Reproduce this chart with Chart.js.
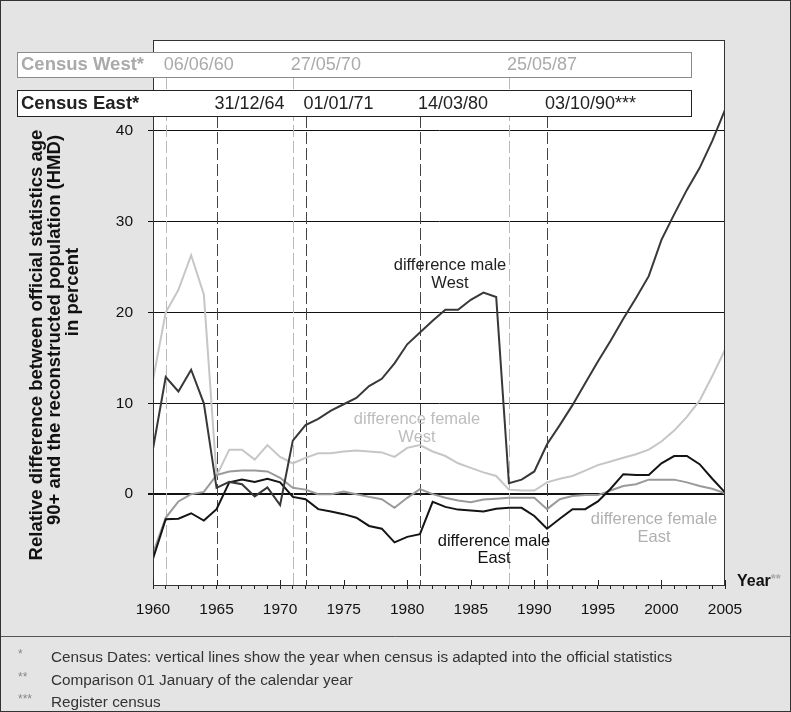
<!DOCTYPE html>
<html><head><meta charset="utf-8">
<script src="https://cdn.jsdelivr.net/npm/chart.js@4/dist/chart.umd.min.js"></script>
<style>html,body{margin:0;padding:0;background:#e4e4e4;}#wrap{width:791px;height:712px;}</style>
</head><body><div id="wrap"><canvas id="c" width="791" height="712"></canvas></div>
<script>
const years = [1960,1961,1962,1963,1964,1965,1966,1967,1968,1969,1970,1971,1972,1973,1974,1975,1976,1977,1978,1979,1980,1981,1982,1983,1984,1985,1986,1987,1988,1989,1990,1991,1992,1993,1994,1995,1996,1997,1998,1999,2000,2001,2002,2003,2004,2005];
const maleWest = [5.0,12.9,11.3,13.7,10.0,0.7,1.35,1.1,-0.25,0.75,-1.2,5.9,7.6,8.3,9.2,9.9,10.6,11.9,12.7,14.4,16.5,17.8,19.1,20.3,20.3,21.4,22.2,21.7,1.2,1.6,2.5,5.5,7.6,9.8,12.2,14.6,16.9,19.3,21.6,24.0,28.0,30.8,33.5,35.9,38.9,42.3];
const maleEast = [-7.1,-2.75,-2.7,-2.1,-2.9,-1.65,1.3,1.6,1.35,1.7,1.3,-0.3,-0.55,-1.65,-1.9,-2.2,-2.6,-3.5,-3.8,-5.3,-4.7,-4.4,-0.85,-1.4,-1.7,-1.8,-1.9,-1.6,-1.5,-1.5,-2.4,-3.8,-2.7,-1.65,-1.65,-0.8,0.6,2.2,2.1,2.1,3.4,4.2,4.2,3.3,1.7,0.2];
const femaleWest = [12.6,20.0,22.5,26.3,22.0,2.0,4.9,4.9,3.8,5.4,4.1,3.4,4.0,4.5,4.5,4.7,4.8,4.7,4.6,4.1,5.1,5.4,4.7,4.2,3.4,2.9,2.4,2.0,0.5,0.4,0.4,1.3,1.7,2.0,2.6,3.2,3.6,4.0,4.4,4.9,5.8,7.0,8.5,10.3,13.0,15.9];
const femaleEast = [-6.5,-2.6,-0.8,0.0,0.25,2.1,2.5,2.6,2.6,2.5,1.8,0.7,0.5,0.0,0.0,0.3,0.0,-0.3,-0.55,-1.5,-0.4,0.55,0.0,-0.4,-0.7,-0.9,-0.6,-0.5,-0.4,-0.4,-0.4,-1.65,-0.55,-0.2,-0.1,-0.1,0.4,0.9,1.1,1.6,1.6,1.6,1.3,0.9,0.6,0.1];
const westCensusYears = [1961,1971,1988];
const westCensusLabels = ['06/06/60','27/05/70','25/05/87'];
const eastCensusYears = [1965,1972,1981,1991];
const eastCensusLabels = ['31/12/64','01/01/71','14/03/80','03/10/90***'];
const yTicks = [0,10,20,30,40];
const xLabelYears = [1960,1965,1970,1975,1980,1985,1990,1995,2000,2005];
const yTitle = ['Relative difference between official statistics age','90+ and the reconstructed population (HMD)','in percent'];
const footnotes = [['*','Census Dates: vertical lines show the year when census is adapted into the official statistics'],['**','Comparison 01 January of the calendar year'],['***','Register census']];

const FF = "'Liberation Sans', Arial, sans-serif";
Chart.defaults.font.family = FF;

function pts(arr){ return years.map((yr,i)=>({x:yr,y:arr[i]})); }

const deco = {
  id:'deco',
  beforeDraw(chart){
    const {ctx, chartArea:a} = chart;
    ctx.save();
    ctx.fillStyle='#e4e4e4'; ctx.fillRect(0,0,chart.width,chart.height);
    ctx.fillStyle='#ffffff'; ctx.fillRect(a.left,a.top,a.right-a.left,a.bottom-a.top);
    ctx.restore();
  },
  beforeDatasetsDraw(chart){
    const {ctx, scales:{x}, chartArea:a} = chart;
    ctx.save();
    ctx.lineWidth=1;
    ctx.setLineDash([12,4]);
    ctx.strokeStyle='#b8b8b8';
    westCensusYears.forEach(yr=>{
      const px=Math.round(x.getPixelForValue(yr))+0.5;
      ctx.beginPath(); ctx.moveTo(px,77); ctx.lineTo(px,a.bottom); ctx.stroke();
    });
    ctx.strokeStyle='#444';
    eastCensusYears.forEach(yr=>{
      const px=Math.round(x.getPixelForValue(yr))+0.5;
      ctx.beginPath(); ctx.moveTo(px,116); ctx.lineTo(px,a.bottom); ctx.stroke();
    });
    ctx.restore();
  },
  afterDraw(chart){
    const {ctx, scales:{x}, chartArea:a} = chart;
    ctx.save();
    ctx.strokeStyle='#333'; ctx.lineWidth=1;
    ctx.strokeRect(a.left+0.5,a.top+0.5,a.right-a.left-1,a.bottom-a.top);
    ctx.strokeStyle='#222';
    xLabelYears.forEach(yr=>{
      const px=Math.round(x.getPixelForValue(yr))+0.5;
      ctx.beginPath(); ctx.moveTo(px,a.bottom-5); ctx.lineTo(px,a.bottom); ctx.stroke();
    });
    ctx.fillStyle='#fff';
    ctx.fillRect(17,52,674,25);
    ctx.strokeStyle='#8a8a8a'; ctx.strokeRect(17.5,52.5,674,25);
    ctx.fillRect(17,90,674,26);
    ctx.strokeStyle='#222'; ctx.strokeRect(17.5,90.5,674,26);
    ctx.textBaseline='middle';
    ctx.textAlign='left';
    ctx.font='bold 18.5px '+FF; ctx.fillStyle='#aaaaaa';
    ctx.fillText('Census West*',21,65);
    ctx.fillStyle='#222';
    ctx.fillText('Census East*',21,104);
    ctx.font='18px '+FF; ctx.fillStyle='#aaaaaa';
    westCensusYears.forEach((yr,i)=>{ ctx.fillText(westCensusLabels[i], x.getPixelForValue(yr)-2, 65); });
    ctx.fillStyle='#222';
    eastCensusYears.forEach((yr,i)=>{ ctx.fillText(eastCensusLabels[i], x.getPixelForValue(yr)-2, 104); });
    ctx.textAlign='center';
    ctx.font='16.5px '+FF;
    ctx.fillStyle='#222'; ctx.fillText('difference male',450,265); ctx.fillText('West',450,283);
    ctx.fillStyle='#bdbdbd'; ctx.fillText('difference female',417,419); ctx.fillText('West',417,437);
    ctx.fillStyle='#111'; ctx.fillText('difference male',494,541); ctx.fillText('East',494,558);
    ctx.fillStyle='#b0b0b0'; ctx.fillText('difference female',654,519); ctx.fillText('East',654,537);
    ctx.font='bold 18.5px '+FF; ctx.fillStyle='#111';
    const tx=[37,55,73], ty=[345,330,292];
    yTitle.forEach((t,i)=>{
      ctx.save(); ctx.translate(tx[i],ty[i]); ctx.rotate(-Math.PI/2);
      ctx.textAlign='center'; ctx.textBaseline='middle'; ctx.fillText(t,0,0); ctx.restore();
    });
    ctx.textAlign='left'; ctx.font='bold 16px '+FF; ctx.fillStyle='#111';
    ctx.fillText('Year',737,582);
    const w=ctx.measureText('Year').width;
    ctx.font='bold 13px '+FF; ctx.fillStyle='#aaa';
    ctx.fillText('**',737+w,579);
    ctx.strokeStyle='#555'; ctx.lineWidth=1;
    ctx.beginPath(); ctx.moveTo(0,636.5); ctx.lineTo(chart.width,636.5); ctx.stroke();
    const fy=[658,681,703];
    footnotes.forEach((f,i)=>{
      ctx.font='12px '+FF; ctx.fillStyle='#888'; ctx.fillText(f[0],18,fy[i]-3);
      ctx.font='15.3px '+FF; ctx.fillStyle='#333'; ctx.fillText(f[1],51,fy[i]);
    });
    ctx.strokeStyle='#333'; ctx.strokeRect(0.5,0.5,chart.width-1,chart.height-1);
    ctx.restore();
  }
};

new Chart(document.getElementById('c'), {
  type:'line',
  data:{ datasets:[
    {label:'male West', data:pts(maleWest), borderColor:'#383838', borderWidth:2},
    {label:'male East', data:pts(maleEast), borderColor:'#141414', borderWidth:2},
    {label:'female East', data:pts(femaleEast), borderColor:'#9a9a9a', borderWidth:2},
    {label:'female West', data:pts(femaleWest), borderColor:'#c6c6c6', borderWidth:2}
  ]},
  options:{
    responsive:false, animation:false, devicePixelRatio:1,
    elements:{ point:{radius:0}, line:{tension:0, fill:false} },
    layout:{ padding:{top:40,right:66,left:0,bottom:0} },
    plugins:{ legend:{display:false}, tooltip:{enabled:false}, title:{display:false} },
    scales:{
      x:{ type:'linear', min:1960, max:2005,
        afterFit(s){ s.height=127; },
        afterBuildTicks(s){ s.ticks=years.map(v=>({value:v})); },
        ticks:{ autoSkip:false, maxRotation:0, minRotation:0, font:{size:15.5}, color:'#111', padding:11,
          callback:(v)=> xLabelYears.includes(v) ? String(v) : '' },
        grid:{ drawOnChartArea:false, tickLength:4, color:'#222' },
        border:{ color:'#111', width:1 } },
      y:{ min:-10, max:50,
        afterFit(s){ s.width=153; },
        afterBuildTicks(s){ s.ticks=yTicks.map(v=>({value:v})); },
        ticks:{ font:{size:15.5}, color:'#111', padding:15 },
        grid:{ color:'#111', lineWidth:(c)=> (c.tick && c.tick.value===0) ? 2 : 1, tickLength:5 },
        border:{ color:'#111', width:1 } }
    }
  },
  plugins:[deco]
});
</script></body></html>
